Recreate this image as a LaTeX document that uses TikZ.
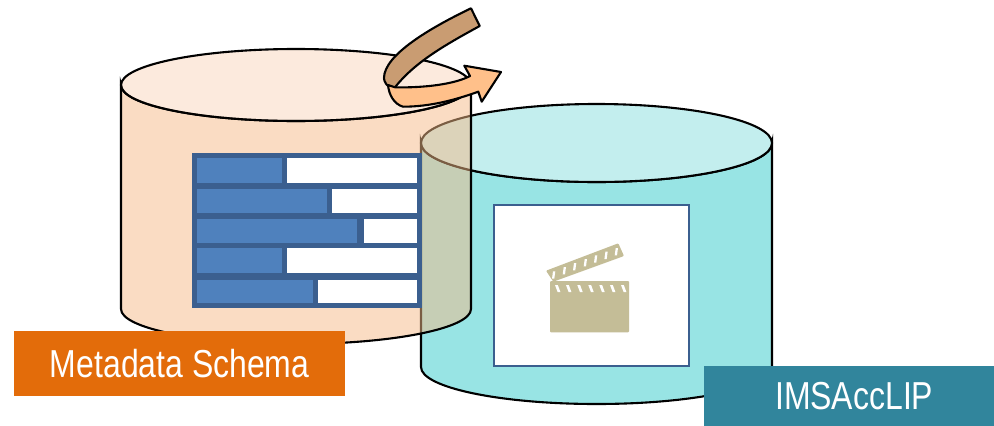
\documentclass[tikz,border=0pt]{standalone}
\usepackage{fontspec}
\setmainfont[FakeStretch=0.82]{Liberation Sans}
\usepackage{tikz}
\usetikzlibrary{positioning}
\definecolor{peachbody}{RGB}{245,186,135}
\definecolor{peachcap}{RGB}{249,214,188}
\definecolor{tealbody}{RGB}{152,228,228}
\definecolor{tealcap}{RGB}{195,238,238}
\definecolor{framed}{RGB}{59,95,143}
\definecolor{barblue}{RGB}{79,129,189}
\definecolor{clapper}{RGB}{196,189,151}
\definecolor{bandback}{RGB}{201,156,114}
\definecolor{bandfront}{RGB}{255,192,138}
\definecolor{orangetag}{RGB}{227,108,10}
\definecolor{tealtag}{RGB}{49,133,156}
\tikzset{
  edge/.style={draw=black, line width=2.1pt},
  seethru/.style={fill opacity=0.5, draw opacity=1},
  tagbox/.style={inner sep=0pt, anchor=north west},
  tagtext/.style={text=white, font=\fontsize{39}{42}\selectfont, inner sep=0pt},
  gap/.style={fill=white, draw=none}
}

\begin{document}
\begin{tikzpicture}[x=1pt, y=-1pt]
  \useasboundingbox (0,0) rectangle (994,426);
  % right cylinder
  \path[edge, fill=tealbody] (421,143) arc[start angle=180, end angle=0, x radius=175.5, y radius=39]
    -- (772,367) arc[start angle=0, end angle=180, x radius=175.5, y radius=37] -- cycle;
  \path[edge, fill=tealcap] (596.5,143) ellipse[x radius=175.5, y radius=39];
  \node[draw=framed, fill=white, line width=2pt, minimum width=195pt, minimum height=161pt, inner sep=0pt] (frame) at (591.5,285) {};
  % film clapper
  \fill[clapper, rounded corners=1pt] (550,281) rectangle (629,332.3);
  \fill[clapper, rounded corners=1pt] (546,270.7) -- (618.3,243.3) -- (624,256) -- (553.3,281.7) -- cycle;
  \foreach \x in {555,566,577.3,588.3,599.3,610,621}
    \fill[gap] (\x,285) -- (\x+2.8,285) -- (\x+5.4,292) -- (\x+2.6,292) -- cycle;
  \foreach \x/\y in {553.3/275,564/270.7,574.3/266.7,585/262.7,595.3/259,605.7/255.3,616/251.7}
    \fill[gap] (\x-1.3,\y+3.7) -- (\x+1,\y+3.7) -- (\x+2,\y-3.7) -- (\x-.3,\y-3.7) -- cycle;
  % left cylinder
  \path[edge, seethru, fill=peachbody] (121,85) arc[start angle=180, end angle=0, x radius=175, y radius=36]
    -- (471,309) arc[start angle=0, end angle=180, x radius=175, y radius=35] -- cycle;
  \path[edge, seethru, fill=peachcap] (296,85) ellipse[x radius=175, y radius=36];
  % table
  \node[fill=framed, minimum width=230pt, minimum height=155pt, inner sep=0pt, anchor=north west] (table) at (192,153) {};
  \foreach \top/\bot/\blue/\white in {158.3/183.3/281.7/286.7, 189.3/213.3/326.7/331.7, 219/243.3/356.7/364, 248.3/273.3/281.7/286.7, 280/303.3/313.3/318.3} {
    \fill[barblue] (197,\top) rectangle (\blue,\bot);
    \fill[white] (\white,\top) rectangle (416.7,\bot);
  }
  % curved arrow
  \path[edge, fill=bandback, line join=round] (471,8.3) .. controls (430,28) and (384,55) .. (384,78)
    .. controls (384,82) and (387,86) .. (391,88) -- (395,87.3)
    .. controls (415,62) and (445,45) .. (479.7,26) -- cycle;
  \path[edge, fill=bandfront, line join=round] (388,85) -- (395,87.3)
    .. controls (425,88) and (455,84) .. (470,76) -- (464.3,65.7) -- (501,72) -- (481.7,101.7) -- (478.3,91.7)
    .. controls (455,100) and (430,106.7) .. (403,106.7)
    .. controls (394,104) and (389,95) .. (388,85) -- cycle;
  % labels
  \node[fill=orangetag, tagbox, minimum width=331pt, minimum height=65pt] (schema) at (14,331) {};
  \node[tagtext] (schematext) at (schema.center) {Metadata Schema};
  \node[fill=tealtag, tagbox, minimum width=290pt, minimum height=60pt] (clip) at (704,366) {};
  \node[tagtext, xshift=5pt] (cliptext) at (clip.center) {IMSAccLIP};
\end{tikzpicture}
\end{document}
